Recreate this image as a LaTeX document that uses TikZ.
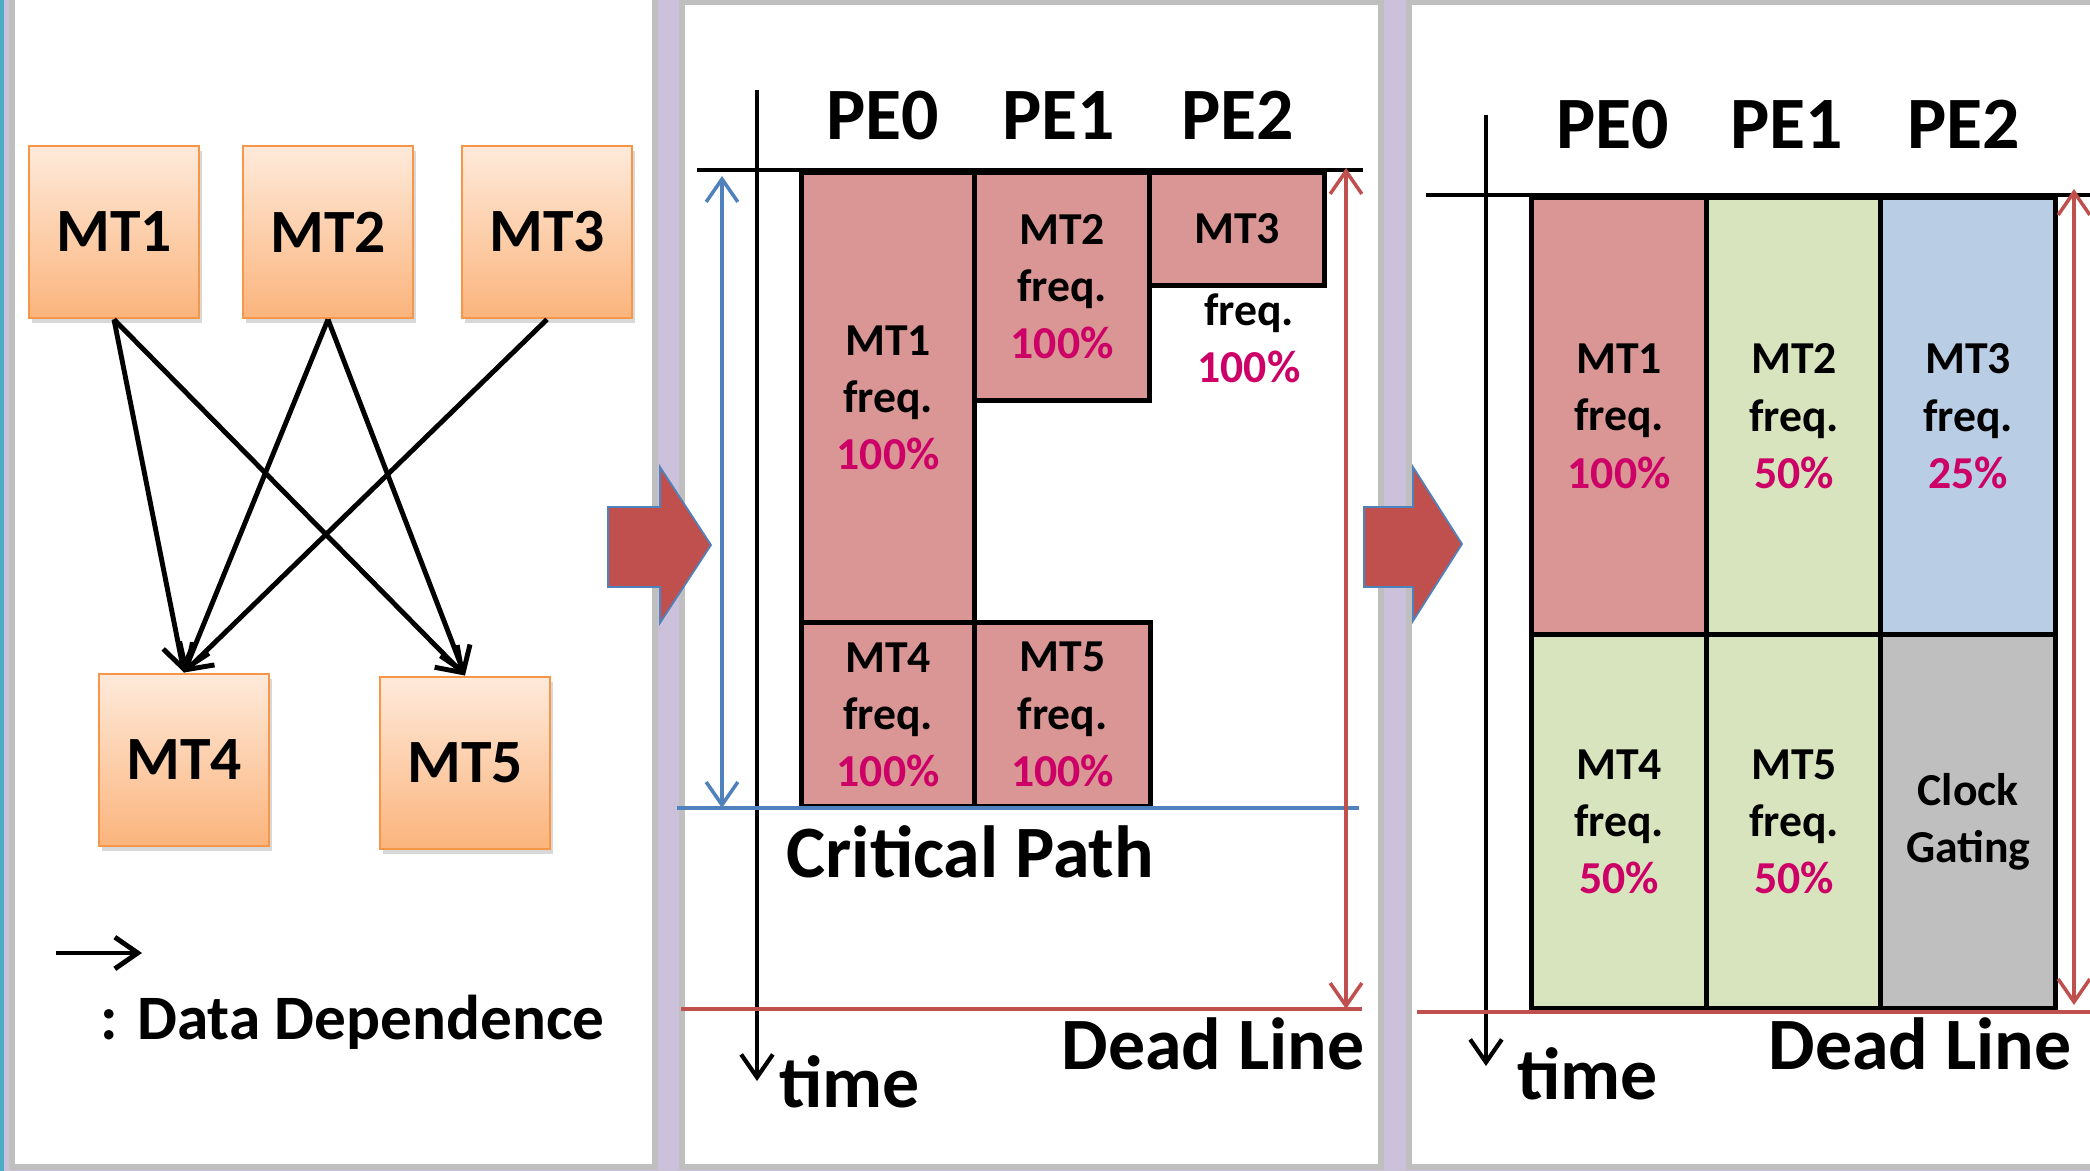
\documentclass[tikz,border=0pt]{standalone}
\usepackage{fontspec}
\setmainfont{Carlito}
\usepackage{xcolor}
\usetikzlibrary{arrows.meta,shadows}
\definecolor{band}{HTML}{CCC1DA}
\definecolor{frame}{HTML}{BFBFBF}
\definecolor{edge}{HTML}{4BACC6}
\definecolor{taskline}{HTML}{F79646}
\definecolor{tasktop}{HTML}{FEEADB}
\definecolor{taskbot}{HTML}{FBB47C}
\definecolor{cellred}{HTML}{D99694}
\definecolor{cellgreen}{HTML}{D7E4BD}
\definecolor{cellblue}{HTML}{B9CDE5}
\definecolor{cellgrey}{HTML}{BFBFBF}
\definecolor{pcmag}{HTML}{CC0066}
\definecolor{dlred}{HTML}{C0504D}
\definecolor{cpblue}{HTML}{4F81BD}
\tikzset{>={Straight Barb[length=6.5pt,width=9pt]}}
\tikzset{
	task/.style={draw=taskline, line width=0.8pt, top color=tasktop, bottom color=taskbot,
		minimum width=1.7cm, minimum height=1.72cm, font=\fontsize{17.5}{20}\selectfont\bfseries,
		drop shadow={opacity=0.3, shadow xshift=0.8pt, shadow yshift=-1.4pt}},
	dep/.style={->, line width=1.4pt},
	cell/.style={draw, line width=1.5pt, align=center, inner sep=0pt, anchor=north west,
		font=\fontsize{13}{16.3}\selectfont\bfseries},
	celltext/.style={align=center, inner sep=0pt, font=\fontsize{13}{16.3}\selectfont\bfseries},
	big/.style={inner sep=0pt, font=\fontsize{21}{25}\selectfont\bfseries},
	axis/.style={->, line width=1.2pt},
	cpline/.style={draw=cpblue, line width=1.3pt},
	dlline/.style={draw=dlred, line width=1.3pt},
	bigarrow/.style={fill=dlred, draw=cpblue, line width=0.5pt}
}
\newcommand{\pc}[1]{\textcolor{pcmag}{#1\%}}

\begin{document}
\begin{tikzpicture}[x=0.01cm, y=-0.01cm]
	\useasboundingbox (0,0) rectangle (2090,1171);
	\fill[band] (0,0) rectangle (2090,1171);
	\fill[edge] (0,0) rectangle (4,1171);
	\filldraw[fill=white, draw=frame, line width=1.7pt] (12,-10) rectangle (655,1167);
	\filldraw[fill=white, draw=frame, line width=1.7pt] (682,2) rectangle (1381,1167);
	\filldraw[fill=white, draw=frame, line width=1.7pt] (1409,2) rectangle (2100,1167);
	
	% task graph
	\foreach \n/\x in {1/114,2/328,3/547}
	{
		\node[task] (t\n) at (\x,232) {MT\n};
	}
	\node[task] (t4) at (184,760) {MT4};
	\node[task] (t5) at (465,763) {MT5};
	\foreach \a/\b in {1/4,1/5,2/4,2/5,3/4}
	{
		\draw[dep] (t\a.south) -- (t\b.north);
	}
	\coordinate (lg0) at (56,953);
	\coordinate (lg1) at (142,953);
	\draw[dep] (lg0) -- (lg1);
	\node[inner sep=0pt, anchor=base west, font=\fontsize{18}{21}\selectfont\bfseries] (lgtext) at (100,1040) {: Data Dependence};
	
	% arrows between the panels
	\draw[bigarrow] (608,507) -- (660,507) -- (660,467) -- (711,545) -- (660,623) -- (660,587) -- (608,587) -- cycle;
	\draw[bigarrow] (1364,507) -- (1413,507) -- (1413,467) -- (1462,544) -- (1413,621) -- (1413,587) -- (1364,587) -- cycle;
	
	% schedule at full frequency
	\node[cell, fill=cellred, minimum width=1.73cm, minimum height=4.5cm] (a1) at (799,170) {MT1\\freq.\\\pc{100}};
	\node[cell, fill=cellred, minimum width=1.75cm, minimum height=2.28cm] (a2) at (972,170) {MT2\\freq.\\\pc{100}};
	\node[cell, fill=cellred, minimum width=1.75cm, minimum height=1.13cm] (a3) at (1147,170) {MT3};
	\node[celltext] (a3f) at (1249,338) {freq.\\\pc{100}};
	\node[cell, fill=cellred, minimum width=1.73cm, minimum height=1.84cm] (a4) at (799,620) {MT4\\freq.\\\pc{100}};
	\node[cell, fill=cellred, minimum width=1.76cm, minimum height=1.84cm] (a5) at (972,620) {MT5\\freq.\\\pc{100}};
	\foreach \x/\n in {883/0,1059/1,1238/2}
	{
		\node[big, anchor=base] (pa\n) at (\x,140) {PE\n};
	}
	\draw[line width=1.3pt] (697,170) -- (1363,170);
	\draw[axis] (757,90) -- (757,1081);
	\draw[cpline] (677,808) -- (1359,808);
	\draw[cpline, <->, line width=1pt] (722,176) -- (722,808);
	\draw[dlline] (681,1009) -- (1362,1009);
	\draw[dlline, <->, line width=1pt] (1346,168) -- (1346,1009);
	\node[big, anchor=base west] (cp) at (786,878) {Critical Path};
	\node[big, anchor=base east] (dla) at (1365,1070) {Dead Line};
	\node[big, anchor=base west] (tma) at (779,1108) {time};
	
	% schedule with lowered frequencies
	\foreach \x/\c/\t [count=\i] in {1529/cellred/{MT1\\freq.\\\pc{100}},1704/cellgreen/{MT2\\freq.\\\pc{50}},1878/cellblue/{MT3\\freq.\\\pc{25}}}
	{
		\node[cell, fill=\c, minimum width=1.75cm, minimum height=4.37cm] (b\i) at (\x,195) {\t};
	}
	\foreach \x/\c/\t [count=\i from 4] in {1529/cellgreen/{MT4\\freq.\\\pc{50}},1704/cellgreen/{MT5\\freq.\\\pc{50}},1878/cellgrey/{Clock\\Gating}}
	{
		\node[cell, fill=\c, minimum width=1.75cm, minimum height=3.74cm] (b\i) at (\x,632) {\t};
	}
	\foreach \x/\n in {1613/0,1787/1,1964/2}
	{
		\node[big, anchor=base] (pb\n) at (\x,149) {PE\n};
	}
	\draw[line width=1.3pt] (1426,195) -- (2090,195);
	\draw[axis] (1486,115) -- (1486,1066);
	\draw[dlline] (1417,1012) -- (2090,1012);
	\draw[dlline, <->, line width=1pt] (2074,189) -- (2074,1005);
	\node[big, anchor=base east] (dlb) at (2072,1070) {Dead Line};
	\node[big, anchor=base west] (tmb) at (1517,1100) {time};
\end{tikzpicture}
\end{document}
